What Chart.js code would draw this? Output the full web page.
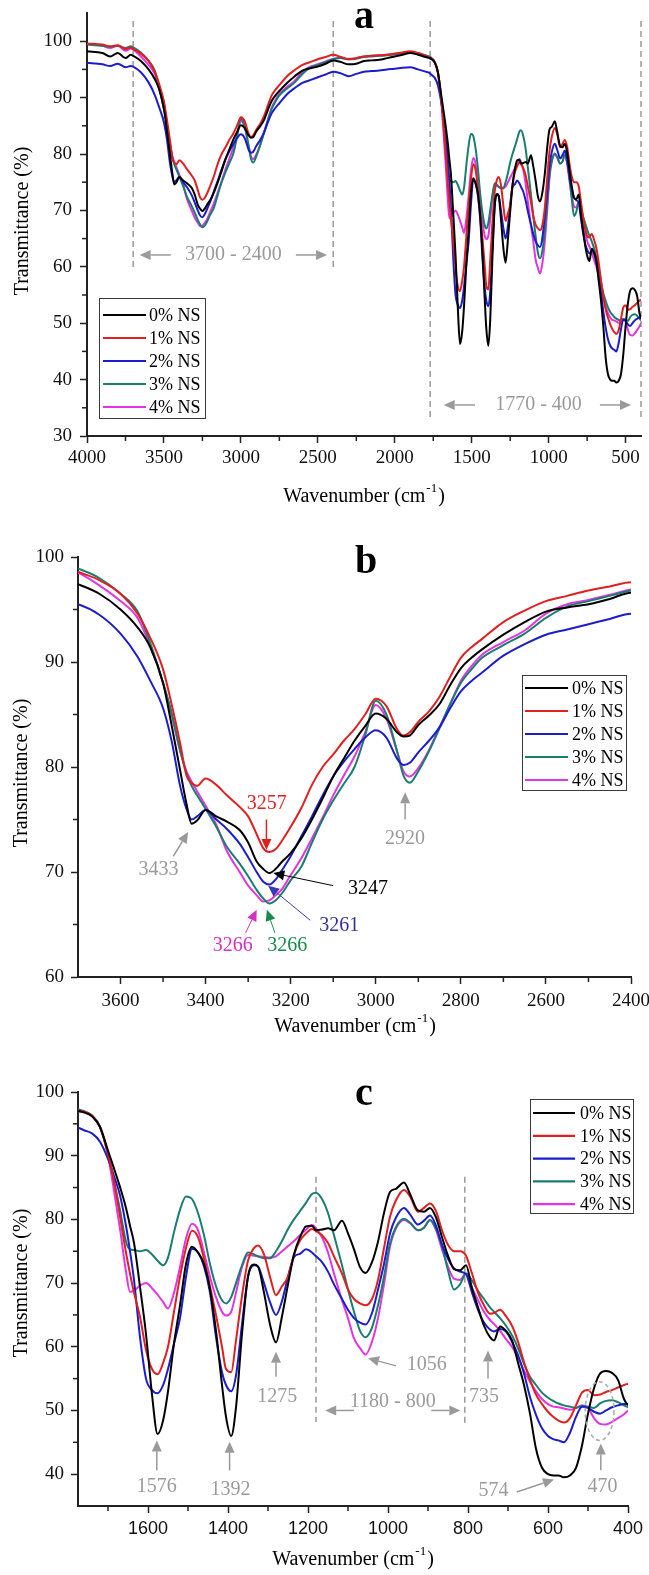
<!DOCTYPE html>
<html>
<head>
<meta charset="utf-8">
<title>FTIR spectra of NS composites</title>
<script src="https://cdn.jsdelivr.net/npm/chart.js@4.4.1/dist/chart.umd.min.js"></script>
<style>
  html, body { margin: 0; padding: 0; background: #ffffff; }
  #figure { position: relative; width: 649px; height: 1575px; overflow: hidden; background: #ffffff; }
  #figure canvas { position: absolute; left: 0; }
</style>
</head>
<body>
<div id="figure">
  <canvas id="panelA" width="649" height="525" style="top:0px"></canvas>
  <canvas id="panelB" width="649" height="520" style="top:525px"></canvas>
  <canvas id="panelC" width="649" height="530" style="top:1045px"></canvas>
</div>
<script>
// ---- spectra: transmittance (%) on a shared wavenumber grid (cm-1, high to low) ----
const wavenumbers = [
  4000, 3900, 3850, 3800, 3750, 3715,
  3700, 3650, 3600, 3560, 3530, 3500, 3480, 3460, 3445, 3433, 3420, 3400, 3375, 3350, 3320, 3300,
  3280, 3265, 3250, 3235, 3220, 3200, 3175, 3150, 3125, 3100, 3075, 3050, 3025, 3000, 2975, 2950,
  2935, 2920, 2900, 2875, 2850, 2825, 2800, 2775, 2750, 2700, 2650, 2600, 2550, 2500, 2450, 2400,
  2350, 2300, 2250, 2200, 2150, 2100, 2050, 2000, 1950, 1900, 1850, 1800,
  1775, 1760, 1740, 1720, 1700, 1685, 1670, 1655, 1645, 1635, 1620, 1605, 1590, 1576, 1562,
  1550, 1535, 1520, 1505, 1490, 1475, 1460, 1445, 1430, 1415, 1405, 1392, 1380, 1365, 1350,
  1335, 1325, 1310, 1295, 1280, 1265, 1250, 1235, 1220, 1205, 1190, 1180, 1165, 1150, 1135,
  1115, 1100, 1085, 1070, 1056, 1040, 1025, 1010, 995, 980, 960, 945, 925, 910, 895,
  880, 865, 850, 835, 820, 805, 790, 775, 760, 745, 735, 720, 705, 690, 675,
  660, 645, 630, 615, 600, 587, 574, 560, 545, 530, 515, 500, 485, 470, 455,
  440, 425, 410, 400
];

const ns0 = [
  98.2, 97.9, 97.3, 97.9, 97.0, 97.6,
  97.4, 96.5, 95.0, 93.3, 91.4, 88.0, 84.0, 79.7, 76.5, 74.6, 74.9, 75.9, 75.3, 74.8, 74.0, 72.8,
  71.0, 70.3, 69.9, 70.3, 71.0, 71.8, 73.2, 75.0, 77.0, 79.1, 80.8, 82.5, 83.9, 85.1, 84.6, 83.3,
  82.9, 83.0, 84.0, 84.9, 86.0, 87.8, 89.4, 90.4, 91.2, 92.6, 93.8, 94.8, 95.2, 95.5, 96.0, 96.6,
  96.3, 95.9, 96.0, 96.5, 96.6, 96.7, 97.0, 97.3, 97.6, 97.9, 97.6, 97.2,
  97.0, 96.8, 96.2, 94.5, 90.8, 88.0, 85.1, 81.8, 79.0, 76.3, 69.4, 62.0, 52.5, 46.3, 48.5,
  53.0, 60.5, 66.5, 73.0, 75.7, 74.8, 73.0, 69.0, 62.5, 54.0, 49.0, 46.0, 50.5, 62.0, 71.0,
  72.9, 72.6, 68.5, 63.5, 60.7, 64.8, 69.8, 74.5, 77.2, 78.9, 79.0, 78.3, 78.4, 78.6, 78.3,
  79.8, 77.8, 75.3, 72.5, 71.6, 73.3, 76.5, 81.0, 84.3, 84.8, 85.8, 84.0, 81.4, 81.2, 81.8,
  80.3, 77.2, 74.3, 72.2, 72.0, 72.8, 69.2, 66.2, 63.3, 61.5, 61.0, 63.2, 62.5, 61.0, 57.5,
  54.0, 49.5, 44.0, 41.0, 40.0, 39.8, 39.8, 39.5, 39.8, 41.0, 44.5, 49.5, 53.5, 55.8, 56.2,
  55.9, 54.8, 51.8, 50.8
];

const ns1 = [
  99.6, 99.4, 99.1, 99.3, 98.6, 98.9,
  98.6, 97.8, 96.5, 94.6, 92.3, 89.3, 86.0, 82.3, 79.2, 78.5, 78.2, 78.9, 78.3, 77.3, 76.2, 75.3,
  73.6, 72.3, 71.9, 72.2, 73.0, 74.3, 76.1, 78.3, 80.0, 81.2, 82.5, 83.6, 85.0, 86.5, 85.8, 83.6,
  83.0, 83.3, 84.3, 85.3, 86.7, 88.6, 90.4, 91.4, 92.2, 93.8, 94.9, 95.8, 96.3, 96.8, 97.2, 97.6,
  97.2, 96.8, 97.0, 97.3, 97.4, 97.5, 97.6, 97.8, 98.0, 98.2, 97.9, 97.4,
  97.1, 96.9, 96.3, 94.5, 90.3, 86.0, 80.5, 74.8, 71.5, 68.5, 64.7, 59.5, 56.5, 55.7, 57.5,
  60.0, 65.5, 71.0, 75.5, 78.2, 77.2, 73.8, 69.5, 65.0, 60.0, 56.5, 56.0, 61.0, 68.0, 73.5,
  75.5, 75.9, 74.5, 71.0, 68.1, 69.5, 71.0, 74.5, 76.7, 77.8, 78.5, 78.2, 77.5, 76.3, 74.2,
  71.5, 69.0, 67.5, 66.8, 66.5, 67.5, 70.5, 75.5, 80.4, 83.0, 84.6, 83.6, 81.2, 81.8, 82.5,
  81.3, 78.3, 76.0, 75.0, 75.0, 74.3, 71.5, 68.5, 66.5, 65.2, 65.3, 65.8, 64.8, 63.3, 60.8,
  57.6, 54.8, 52.5, 51.0, 49.8, 49.0, 48.4, 48.1, 48.8, 50.8, 52.8, 53.2, 52.4, 52.5, 52.9,
  53.2, 53.6, 54.0, 54.2
];

const ns2 = [
  96.2, 95.9, 95.6, 96.0, 95.4, 95.6,
  95.5, 94.5, 92.7, 90.5, 88.2, 85.6, 82.5, 78.2, 76.0, 75.0, 75.3, 75.9, 75.0, 74.1, 72.7, 71.4,
  70.0, 69.1, 68.8, 69.3, 70.2, 71.5, 73.4, 75.3, 77.3, 79.1, 80.5, 81.7, 82.8, 83.5, 82.8, 80.8,
  80.2, 80.4, 81.4, 82.5, 83.8, 85.6, 87.2, 88.2, 89.0, 90.6, 91.7, 92.6, 93.1, 93.6, 94.1, 94.6,
  94.3, 93.8, 94.2, 94.6, 94.7, 94.8, 95.0, 95.1, 95.3, 95.4, 95.0, 94.6,
  94.4, 94.0, 93.5, 92.2, 89.5, 86.8, 83.8, 79.0, 75.0, 70.5, 61.5, 55.0, 53.2, 52.7, 54.0,
  56.5, 60.5, 64.5, 71.0, 75.4, 74.8, 72.6, 68.5, 61.5, 56.0, 54.0, 53.0, 55.5, 63.5, 71.0,
  72.8, 72.6, 70.0, 67.0, 65.0, 67.2, 71.0, 74.1, 74.6, 75.3, 74.8, 74.2, 73.3, 71.8, 69.8,
  67.5, 65.8, 64.5, 63.8, 63.5, 65.3, 69.0, 73.0, 77.8, 80.3, 81.8, 80.8, 79.2, 79.8, 80.6,
  79.0, 76.0, 73.8, 72.3, 71.8, 71.4, 68.5, 65.8, 63.8, 62.7, 62.4, 62.8, 62.4, 60.8, 58.7,
  55.8, 52.1, 49.3, 47.2, 46.0, 45.5, 45.3, 45.0, 46.5, 49.0, 50.6, 50.4, 49.8, 49.5, 50.0,
  50.5, 50.8, 51.0, 51.0
];

const ns3 = [
  99.4, 99.2, 99.0, 99.2, 98.8, 99.1,
  98.9, 98.0, 96.5, 94.8, 91.8, 88.0, 85.2, 81.6, 79.4, 78.2, 77.3, 76.0, 74.3, 72.4, 70.8, 69.6,
  68.3, 67.5, 67.0, 67.3, 68.0, 69.2, 70.5, 72.8, 75.0, 76.8, 78.4, 80.0, 83.0, 86.3, 85.0, 81.5,
  79.2, 78.5, 79.6, 81.5, 83.7, 86.0, 88.0, 89.3, 90.4, 91.6, 92.7, 94.2, 95.3, 95.8, 96.3, 96.8,
  97.0, 96.8, 96.9, 97.2, 97.3, 97.4, 97.5, 97.7, 97.9, 98.1, 97.9, 97.5,
  97.3, 97.0, 96.3, 94.6, 90.3, 86.0, 81.5, 76.5, 75.3, 75.2, 75.0, 75.2, 74.5, 73.5, 72.8,
  74.0, 78.0, 81.5, 83.6, 83.2, 81.0, 77.5, 73.0, 69.5, 67.3, 66.8, 67.8, 70.0, 72.8, 74.8,
  74.5, 74.2, 73.9, 73.9, 75.0, 76.6, 78.5, 80.0, 81.3, 82.6, 84.0, 84.2, 83.2, 81.0, 77.5,
  72.8, 69.0, 65.5, 62.5, 61.5, 63.0, 66.5, 71.0, 76.2, 78.8, 80.1, 79.5, 78.3, 78.7, 79.9,
  78.5, 75.8, 72.0, 69.0, 69.8, 71.5, 70.4, 68.8, 67.5, 66.2, 65.5, 64.5, 63.3, 61.8, 59.8,
  57.3, 55.3, 54.0, 52.8, 52.0, 51.5, 51.1, 50.8, 50.6, 50.4, 50.7, 50.6, 50.4, 51.1, 51.5,
  51.6, 51.3, 50.8, 50.5
];

const ns4 = [
  99.5, 99.2, 98.8, 99.2, 98.3, 98.7,
  98.5, 97.3, 95.8, 94.2, 91.5, 88.0, 85.0, 81.5, 79.6, 78.6, 77.7, 76.3, 74.5, 72.0, 70.0, 68.7,
  67.8, 67.2, 67.3, 67.8, 68.4, 69.7, 71.3, 73.2, 75.2, 77.3, 79.2, 81.0, 83.3, 85.9, 84.6, 81.5,
  79.6, 79.1, 79.9, 81.6, 83.8, 86.0, 88.2, 89.6, 90.7, 91.9, 93.0, 94.6, 95.5, 95.9, 96.4, 96.9,
  97.0, 96.9, 97.0, 97.3, 97.4, 97.5, 97.6, 97.7, 97.9, 98.1, 97.8, 97.4,
  97.0, 96.8, 96.2, 94.5, 90.0, 84.5, 78.5, 71.8, 68.6, 68.8, 69.6, 70.0, 69.2, 68.2, 67.0,
  66.0, 68.5, 72.5, 77.0, 79.3, 78.3, 74.8, 71.0, 67.8, 65.5, 64.9, 65.5, 68.5, 72.5, 74.4,
  74.3, 74.2, 74.1, 74.0, 74.2, 75.0, 75.8, 76.6, 77.5, 78.4, 79.1, 78.6, 77.2, 74.8, 71.5,
  67.3, 64.5, 61.3, 59.8, 58.8, 60.8, 64.5, 69.8, 75.7, 78.6, 79.9, 79.4, 78.3, 78.7, 79.9,
  78.3, 75.3, 72.6, 70.7, 70.5, 71.5, 69.3, 67.3, 65.5, 64.2, 63.6, 62.5, 61.2, 60.0, 58.3,
  56.3, 54.5, 53.0, 51.8, 51.0, 50.6, 50.5, 50.3, 50.1, 50.4, 50.8, 50.4, 48.8, 47.9, 47.8,
  48.2, 48.8, 49.4, 50.0
];

const seriesLabels = ['0% NS', '1% NS', '2% NS', '3% NS', '4% NS'];
const seriesValues = [ns0, ns1, ns2, ns3, ns4];
const seriesColors = ['#000000', '#e01f1f', '#1c1ccf', '#1a7d70', '#e235e2'];

// ---- axis ticks ----
const ticksAX = [4000, 3500, 3000, 2500, 2000, 1500, 1000, 500];
const minorAX = [3750, 3250, 2750, 2250, 1750, 1250, 750];
const ticksAY = [30, 40, 50, 60, 70, 80, 90, 100];
const minorAY = [35, 45, 55, 65, 75, 85, 95];

const ticksBX = [3600, 3400, 3200, 3000, 2800, 2600, 2400];
const minorBX = [3500, 3300, 3100, 2900, 2700, 2500];
const ticksBY = [60, 70, 80, 90, 100];
const minorBY = [65, 75, 85, 95];

const ticksCX = [1600, 1400, 1200, 1000, 800, 600, 400];
const minorCX = [1700, 1500, 1300, 1100, 900, 700, 500];
const ticksCY = [40, 50, 60, 70, 80, 90, 100];
const minorCY = [45, 55, 65, 75, 85, 95];

// ---- annotations, in data units (wavenumber, transmittance) ----
const GRAY = '#9a9a9a';
const guidesA = [
  { x: 3700, from: 59.4, to: 103.6 }, { x: 2400, from: 59.4, to: 103.6 },
  { x: 1770, from: 32.8, to: 103.6 }, { x: 400, from: 32.8, to: 103.6 }
];
const labelsA = [
  { text: '3700 - 2400', x: 3049, y: 62.1, color: GRAY },
  { text: '1770 - 400', x: 1066, y: 35.5, color: GRAY }
];
const arrowsA = [
  { from: [3455, 62.1], to: [3658, 62.1], color: GRAY, width: 1.5 },
  { from: [2643, 62.1], to: [2440, 62.1], color: GRAY, width: 1.5 },
  { from: [1479, 35.5], to: [1682, 35.5], color: GRAY, width: 1.5 },
  { from: [667, 35.5], to: [465, 35.5], color: GRAY, width: 1.5 }
];

const labelsB = [
  { text: '3257', x: 3256, y: 76.5, color: '#e01f1f' },
  { text: '3247', x: 3018, y: 68.4, color: '#000000' },
  { text: '3261', x: 3086, y: 64.9, color: '#33339c' },
  { text: '3266', x: 3336, y: 63.0, color: '#d42fc6' },
  { text: '3266', x: 3208, y: 63.0, color: '#178a4c' },
  { text: '3433', x: 3511, y: 70.2, color: GRAY },
  { text: '2920', x: 2931, y: 73.2, color: GRAY }
];
const arrowsB = [
  { from: [3257, 75.0], to: [3257, 72.1], color: '#e01f1f', width: 1.5 },
  { from: [3100, 68.7], to: [3241, 69.9], color: '#000000', width: 1 },
  { from: [3154, 65.4], to: [3253, 68.7], color: '#3a3ab0', width: 1 },
  { from: [3306, 64.2], to: [3280, 66.4], color: '#d42fc6', width: 1 },
  { from: [3237, 64.2], to: [3256, 66.4], color: '#178a4c', width: 1 },
  { from: [3476, 71.5], to: [3441, 73.8], color: GRAY, width: 1.5 },
  { from: [2931, 75.0], to: [2931, 77.6], color: GRAY, width: 1.5 }
];

const guidesC = [
  { x: 1180, from: 48.2, to: 86.7 }, { x: 808, from: 47.9, to: 86.7 }
];
const labelsC = [
  { text: '1180 - 800', x: 988, y: 51.3, color: GRAY },
  { text: '1576', x: 1578, y: 38.0, color: GRAY },
  { text: '1392', x: 1394, y: 37.5, color: GRAY },
  { text: '1275', x: 1277, y: 52.1, color: GRAY },
  { text: '735', x: 760, y: 52.1, color: GRAY },
  { text: '1056', x: 903, y: 57.1, color: GRAY },
  { text: '574', x: 736, y: 37.4, color: GRAY },
  { text: '470', x: 464, y: 38.0, color: GRAY }
];
const arrowsC = [
  { from: [1085, 50.0], to: [1157, 50.0], color: GRAY, width: 1.5 },
  { from: [892, 50.0], to: [819, 50.0], color: GRAY, width: 1.5 },
  { from: [1578, 40.6], to: [1578, 45.3], color: GRAY, width: 1.5 },
  { from: [1396, 40.6], to: [1396, 45.1], color: GRAY, width: 1.5 },
  { from: [1280, 55.3], to: [1280, 59.2], color: GRAY, width: 1.5 },
  { from: [750, 55.0], to: [750, 59.4], color: GRAY, width: 1.5 },
  { from: [980, 57.0], to: [1050, 58.2], color: GRAY, width: 1.5 },
  { from: [678, 37.2], to: [585, 39.15], color: GRAY, width: 1.5 },
  { from: [468, 40.6], to: [468, 44.8], color: GRAY, width: 1.5 }
];
const ellipsesC = [{ x: 471, y: 49.9, rx: 36, ry: 4.6 }];

// ---- drawing helpers ----
const SERIF = '"Liberation Serif", "Times New Roman", serif';
const SANS = '"Liberation Sans", Arial, sans-serif';

function seg(ctx, x0, y0, x1, y1) {
  ctx.beginPath(); ctx.moveTo(x0, y0); ctx.lineTo(x1, y1); ctx.stroke();
}

function drawArrow(ctx, x0, y0, x1, y1, color, width) {
  const ang = Math.atan2(y1 - y0, x1 - x0);
  const L = 11, h = 5;
  const bx = x1 - L * Math.cos(ang), by = y1 - L * Math.sin(ang);
  ctx.strokeStyle = color; ctx.fillStyle = color; ctx.lineWidth = width;
  seg(ctx, x0, y0, bx, by);
  ctx.beginPath();
  ctx.moveTo(x1, y1);
  ctx.lineTo(bx + h * Math.sin(ang), by - h * Math.cos(ang));
  ctx.lineTo(bx - h * Math.sin(ang), by + h * Math.cos(ang));
  ctx.closePath(); ctx.fill();
}

function decorations(cfg) {
  return {
    id: 'decor_' + cfg.id,
    beforeDatasetsDraw(chart) {
      const ctx = chart.ctx, xs = chart.scales.x, ys = chart.scales.y;
      ctx.save();
      ctx.strokeStyle = '#9a9a9a'; ctx.lineWidth = 1.5; ctx.setLineDash([6, 4]);
      (cfg.guides || []).forEach(g => {
        const x = xs.getPixelForValue(g.x);
        seg(ctx, x, ys.getPixelForValue(g.to), x, ys.getPixelForValue(g.from));
      });
      ctx.restore();
    },
    afterDraw(chart) {
      const ctx = chart.ctx, xs = chart.scales.x, ys = chart.scales.y, area = chart.chartArea;
      ctx.save();
      // minor ticks
      ctx.strokeStyle = '#222'; ctx.lineWidth = 1.5;
      cfg.xMinor.forEach(v => { const x = xs.getPixelForValue(v); seg(ctx, x, area.bottom, x, area.bottom + 5); });
      cfg.yMinor.forEach(v => { const y = ys.getPixelForValue(v); seg(ctx, area.left - 5, y, area.left, y); });

      // dashed ellipses
      ctx.setLineDash([4, 3]); ctx.strokeStyle = '#a8a8a8'; ctx.lineWidth = 1.5;
      (cfg.ellipses || []).forEach(e => {
        const cx = xs.getPixelForValue(e.x), cy = ys.getPixelForValue(e.y);
        const rx = Math.abs(xs.getPixelForValue(e.x + e.rx) - cx);
        const ry = Math.abs(ys.getPixelForValue(e.y + e.ry) - cy);
        ctx.beginPath(); ctx.ellipse(cx, cy, rx, ry, 0, 0, Math.PI * 2); ctx.stroke();
      });
      ctx.setLineDash([]);

      // arrows and labels
      (cfg.arrows || []).forEach(a => {
        drawArrow(ctx, xs.getPixelForValue(a.from[0]), ys.getPixelForValue(a.from[1]),
          xs.getPixelForValue(a.to[0]), ys.getPixelForValue(a.to[1]), a.color, a.width);
      });
      ctx.font = '20px ' + SERIF; ctx.textAlign = 'center'; ctx.textBaseline = 'middle';
      (cfg.labels || []).forEach(l => {
        ctx.fillStyle = l.color;
        ctx.fillText(l.text, xs.getPixelForValue(l.x), ys.getPixelForValue(l.y));
      });

      // legend
      const lg = cfg.legend;
      ctx.fillStyle = '#ffffff';
      ctx.fillRect(lg.box[0], lg.box[1], lg.box[2] - lg.box[0], lg.box[3] - lg.box[1]);
      ctx.strokeStyle = '#3a3a3a'; ctx.lineWidth = 1;
      ctx.strokeRect(lg.box[0] + 0.5, lg.box[1] + 0.5, lg.box[2] - lg.box[0], lg.box[3] - lg.box[1]);
      ctx.font = '18px ' + SERIF; ctx.textAlign = 'left'; ctx.textBaseline = 'middle';
      chart.data.datasets.forEach((ds, i) => {
        const y = lg.row0 + i * lg.dy;
        ctx.strokeStyle = ds.borderColor; ctx.lineWidth = 2.2;
        seg(ctx, lg.line[0], y, lg.line[1], y);
        ctx.fillStyle = '#000';
        ctx.fillText(ds.label, lg.textX, y + 1);
      });

      // panel letter
      ctx.font = 'bold 40px ' + SERIF; ctx.textAlign = 'center'; ctx.textBaseline = 'alphabetic';
      ctx.fillStyle = '#000';
      ctx.fillText(cfg.letter.text, cfg.letter.x, cfg.letter.y);

      // x title with superscript
      ctx.textBaseline = 'middle'; ctx.textAlign = 'left';
      const big = '20px ' + SERIF, small = '13px ' + SERIF;
      ctx.font = big; const w1 = ctx.measureText('Wavenumber (cm').width;
      ctx.font = small; const w2 = ctx.measureText('-1').width;
      ctx.font = big; const w3 = ctx.measureText(')').width;
      const total = w1 + w2 + w3 + 2;
      let sx = cfg.xTitle.x - total / 2;
      ctx.fillText('Wavenumber (cm', sx, cfg.xTitle.y);
      ctx.font = small; ctx.fillText('-1', sx + w1 + 1, cfg.xTitle.y - 8);
      ctx.font = big; ctx.fillText(')', sx + w1 + w2 + 2, cfg.xTitle.y);

      // y title
      ctx.save();
      ctx.translate(cfg.yTitle.x, cfg.yTitle.y); ctx.rotate(-Math.PI / 2);
      ctx.textAlign = 'center'; ctx.font = big;
      ctx.fillText('Transmittance (%)', 0, 0);
      ctx.restore();

      ctx.restore();
    }
  };
}

function buildPanel(cfg) {
  const canvas = document.getElementById(cfg.id);
  const W = canvas.width, H = canvas.height;
  const datasets = seriesLabels.map((label, i) => ({
    label,
    data: wavenumbers.map((w, j) => ({ x: w, y: seriesValues[i][j] })),
    borderColor: seriesColors[i],
    borderWidth: 2,
    pointRadius: 0,
    fill: false,
    cubicInterpolationMode: 'monotone'
  }));
  const axisTickGrid = { drawOnChartArea: false, drawTicks: true, tickLength: 7, tickWidth: 1.5, tickColor: '#222' };
  return new Chart(canvas, {
    type: 'line',
    data: { datasets },
    options: {
      responsive: false, animation: false, devicePixelRatio: 1, events: [],
      layout: { padding: { left: 0, top: cfg.area.top, right: W - cfg.area.right, bottom: 0 } },
      plugins: { legend: { display: false }, tooltip: { enabled: false }, title: { display: false } },
      scales: {
        x: {
          type: 'linear', reverse: true, min: cfg.xMin, max: cfg.xMax,
          afterBuildTicks: s => { s.ticks = cfg.xTicks.map(v => ({ value: v })); },
          afterFit: s => { s.height = H - cfg.area.bottom; s.paddingLeft = 0; s.paddingRight = 0; },
          ticks: { autoSkip: false, maxRotation: 0, minRotation: 0, padding: cfg.xPad, color: '#111',
                   font: cfg.xFont, callback: v => String(v) },
          grid: axisTickGrid,
          border: { display: true, color: '#222', width: 2 }
        },
        y: {
          type: 'linear', min: cfg.yMin, max: cfg.yMax,
          afterBuildTicks: s => { s.ticks = cfg.yTicks.map(v => ({ value: v })); },
          afterFit: s => { s.width = cfg.area.left; s.paddingTop = 0; s.paddingBottom = 0; },
          ticks: { autoSkip: false, padding: cfg.yPad, color: '#111',
                   font: { family: SERIF, size: 19 }, callback: v => String(v) },
          grid: axisTickGrid,
          border: { display: true, color: '#222', width: 2 }
        }
      }
    },
    plugins: [decorations(cfg)]
  });
}

buildPanel({
  id: 'panelA', area: { left: 87, right: 641, top: 13, bottom: 436 },
  xMin: 400, xMax: 4000, yMin: 30, yMax: 105,
  xTicks: ticksAX, xMinor: minorAX, yTicks: ticksAY, yMinor: minorAY,
  xFont: { family: SERIF, size: 19 }, xPad: 4, yPad: 8,
  guides: guidesA, labels: labelsA, arrows: arrowsA,
  legend: { box: [99, 298, 205, 418], row0: 315, dy: 23, line: [103, 146], textX: 149 },
  letter: { text: 'a', x: 364, y: 28 },
  xTitle: { x: 364, y: 497 }, yTitle: { x: 23, y: 221 }
});

buildPanel({
  id: 'panelB', area: { left: 78, right: 631, top: 32, bottom: 452 },
  xMin: 2400, xMax: 3700, yMin: 60, yMax: 100,
  xTicks: ticksBX, xMinor: minorBX, yTicks: ticksBY, yMinor: minorBY,
  xFont: { family: SERIF, size: 19 }, xPad: 6, yPad: 7,
  labels: labelsB, arrows: arrowsB,
  legend: { box: [522, 150, 626, 265], row0: 163, dy: 23, line: [525, 568], textX: 572 },
  letter: { text: 'b', x: 366, y: 48 },
  xTitle: { x: 355, y: 502 }, yTitle: { x: 22, y: 248 }
});

buildPanel({
  id: 'panelC', area: { left: 78, right: 628, top: 47, bottom: 461 },
  xMin: 400, xMax: 1775, yMin: 35, yMax: 100,
  xTicks: ticksCX, xMinor: minorCX, yTicks: ticksCY, yMinor: minorCY,
  xFont: { family: SANS, size: 18 }, xPad: 5, yPad: 7,
  guides: guidesC, labels: labelsC, arrows: arrowsC, ellipses: ellipsesC,
  legend: { box: [530, 54, 633, 168], row0: 68, dy: 22.8, line: [533, 575], textX: 580 },
  letter: { text: 'c', x: 364, y: 60 },
  xTitle: { x: 353, y: 515 }, yTitle: { x: 22, y: 238 }
});
</script>
</body>
</html>
